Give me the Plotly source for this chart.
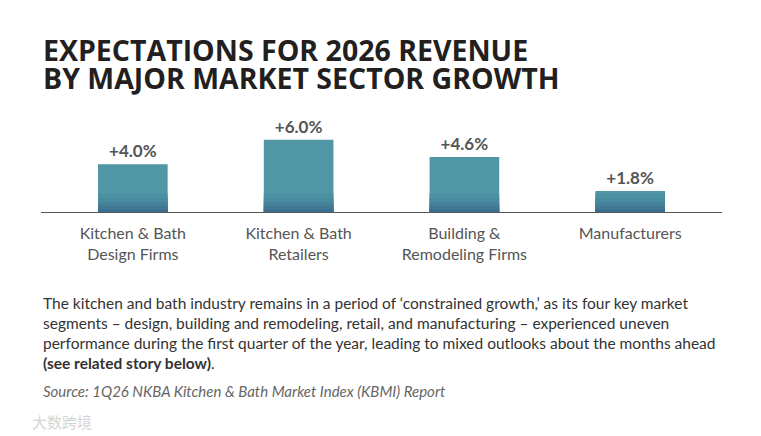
import plotly.graph_objects as go

# data
sectors = ["Kitchen & Bath<br>Design Firms", "Kitchen & Bath<br>Retailers",
           "Building &<br>Remodeling Firms", "Manufacturers"]
growth = [4.0, 6.0, 4.6, 1.8]
growth_labels = ["+4.0%", "+6.0%", "+4.6%", "+1.8%"]

title_lines = ["EXPECTATIONS FOR 2026 REVENUE", "BY MAJOR MARKET SECTOR GROWTH"]
body_text = ("The kitchen and bath industry remains in a period of \u2018constrained growth,\u2019 as its four key market<br>"
             "segments \u2013 design, building and remodeling, retail, and manufacturing \u2013 experienced uneven<br>"
             "performance during the first quarter of the year, leading to mixed outlooks about the months ahead<br>"
             "<b>(see related story below)</b>.")
source_text = "<i>Source: 1Q26 NKBA Kitchen & Bath Market Index (KBMI) Report</i>"
watermark = "大数跨境"

W, H = 761, 436
L, R, T, B = 41, 39, 100, 223
plot_w, plot_h = W - L - R, H - T - B


def px(x, y):
    # pixel position -> paper coords
    return (x - L) / plot_w, (H - B - y) / plot_h


fig = go.Figure()

# main bars
fig.add_trace(go.Bar(
    x=list(range(len(sectors))), y=growth, width=0.42,
    marker=dict(color="#4f97a5", line_width=0),
    text=growth_labels, textposition="outside", cliponaxis=False,
    textfont=dict(family="Lato", size=17, color="#555555", weight="bold"),
    hoverinfo="skip",
))

# darker bands near the base to fake the gradient
bands = [1.6, 1.2, 0.85, 0.55, 0.3]
band_cols = ["#4c91a2", "#488a9e", "#448199", "#407894", "#3c6e90"]
for h, c in zip(bands, band_cols):
    fig.add_trace(go.Bar(
        x=list(range(len(sectors))), y=[min(v, h) for v in growth], width=0.42,
        marker=dict(color=c, line_width=0), hoverinfo="skip",
    ))

fig.update_layout(
    width=W, height=H,
    margin=dict(l=L, r=R, t=T, b=B),
    paper_bgcolor="white", plot_bgcolor="white",
    barmode="overlay", showlegend=False,
    font=dict(family="Lato", color="#555555"),
)

fig.update_xaxes(
    range=[-0.554, 3.554], tickvals=list(range(len(sectors))), ticktext=sectors,
    showgrid=False, zeroline=False, showline=False,
    ticks="outside", ticklen=6, tickcolor="white",
    tickfont=dict(family="Lato", size=16, color="#555555"),
    fixedrange=True,
)
fig.update_yaxes(
    range=[0, plot_h / 12.2], visible=False, showgrid=False,
    zeroline=True, fixedrange=True,
)

# baseline
fig.add_shape(type="line", xref="paper", yref="y", x0=0, x1=1, y0=0, y1=0,
              line=dict(color="#555555", width=2))

# title
for i, line in enumerate(title_lines):
    x, y = px(41, 50 + i * 28)
    fig.add_annotation(text="<b>" + line + "</b>", x=x, y=y, xref="paper", yref="paper",
                       xanchor="left", yanchor="middle", showarrow=False,
                       font=dict(family="Open Sans", size=28.5, color="#231f20"))

x, y = px(41, 292)
fig.add_annotation(text=body_text, x=x, y=y, xref="paper", yref="paper",
                   xanchor="left", yanchor="top", align="left", showarrow=False,
                   font=dict(family="Lato", size=15.5, color="#333333"))

x, y = px(41, 391)
fig.add_annotation(text=source_text, x=x, y=y, xref="paper", yref="paper",
                   xanchor="left", yanchor="middle", align="left", showarrow=False,
                   font=dict(family="Lato", size=15, color="#666666"))

x, y = px(30, 421)
fig.add_annotation(text=watermark, x=x, y=y, xref="paper", yref="paper",
                   xanchor="left", yanchor="middle", showarrow=False,
                   font=dict(family="Noto Sans CJK SC", size=15, color="#d4d4d4"))

fig.write_html("out.html", config={"displayModeBar": False},
               post_script="document.body.style.margin='0';")
